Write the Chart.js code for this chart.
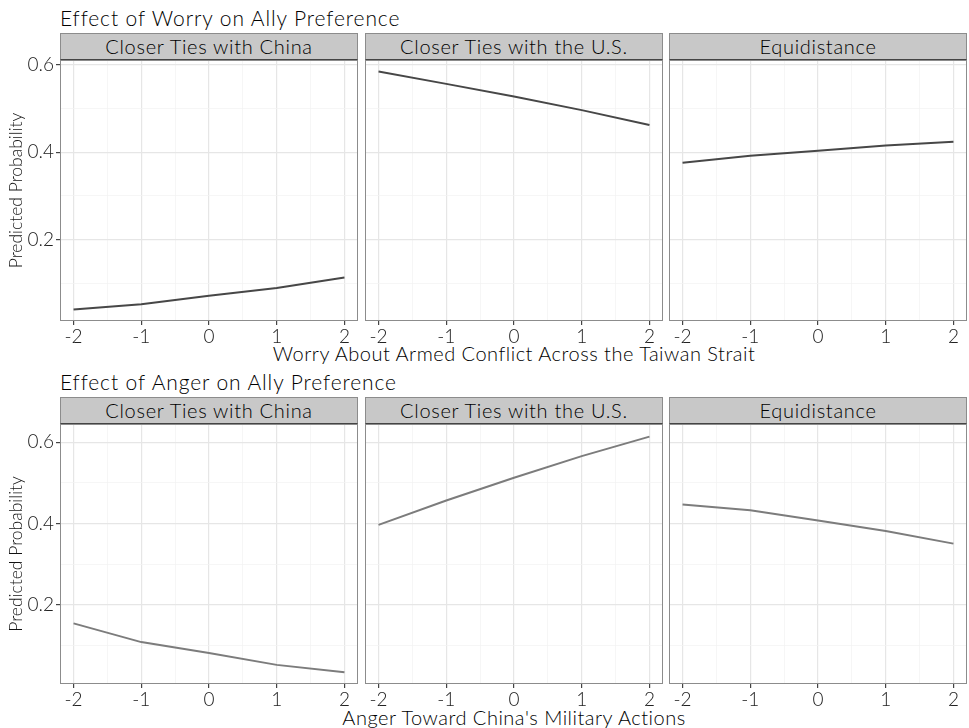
<!DOCTYPE html>
<html lang="en">
<head>
<meta charset="UTF-8">
<title>Effect of Worry and Anger on Ally Preference</title>
<style>
  body { margin: 0; background: #fff; font-family: Lato, sans-serif; font-weight: 300; }
  #page { position: relative; width: 969px; height: 728px; overflow: hidden; }
  .title { position: absolute; left: 60px; font-size: 21px; line-height: 21px; letter-spacing: 0.9px; color: #000; white-space: nowrap; }
  .strip { position: absolute; height: 27px; background: #c8c8c8; border: 1px solid #8c8c8c; border-bottom: 1px solid #444;
           box-sizing: border-box; text-align: center; font-size: 20px; line-height: 25px; letter-spacing: 0.7px; color: #000; white-space: nowrap; }
  .xtitle { position: absolute; font-size: 20px; line-height: 20px; letter-spacing: 0.5px; color: #000; white-space: nowrap; transform: translateX(-50%); }
  canvas { position: absolute; }
</style>
</head>
<body>
<div id="page">
  <div class="title" style="top:7px">Effect of Worry on Ally Preference</div>
  <div class="title" style="top:371px">Effect of Anger on Ally Preference</div>
  <div class="xtitle" style="top:343px; left:514px">Worry About Armed Conflict Across the Taiwan Strait</div>
  <div class="xtitle" style="top:707px; left:514px">Anger Toward China's Military Actions</div>
</div>

<script src="https://cdn.jsdelivr.net/npm/chart.js"></script>
<script>
  // data
  const xVals = [-2, -1, 0, 1, 2];
  const panelNames = ['Closer Ties with China', 'Closer Ties with the U.S.', 'Equidistance'];

  const worryChina = [0.041, 0.053, 0.072, 0.090, 0.114];
  const worryUS    = [0.584, 0.556, 0.527, 0.496, 0.462];
  const worryEqui  = [0.376, 0.392, 0.403, 0.415, 0.424];

  const angerChina = [0.155, 0.109, 0.082, 0.053, 0.035];
  const angerUS    = [0.397, 0.457, 0.513, 0.566, 0.614];
  const angerEqui  = [0.447, 0.433, 0.408, 0.382, 0.351];

  const xMajor = [-2, -1, 0, 1, 2];
  const xMinor = [-1.5, -0.5, 0.5, 1.5];
  const yMajor = [0.2, 0.4, 0.6];
  const yMinor = [0.1, 0.3, 0.5];

  // layout of the facet grid
  const cols = [{ left: 60, right: 358 }, { left: 365, right: 663 }, { left: 669, right: 967 }];
  const rows = [
    { stripTop: 33, top: 60, bottom: 321, yMin: 0.0145, yMax: 0.6105, color: '#474747',
      series: [worryChina, worryUS, worryEqui] },
    { stripTop: 397, top: 424, bottom: 684, yMin: 0.006, yMax: 0.645, color: '#7c7c7c',
      series: [angerChina, angerUS, angerEqui] }
  ];
  const PAD_TOP = 12, X_AXIS_H = 28, Y_AXIS_W = 60;
  const tickFont = { family: 'Lato', size: 19, weight: '300' };

  const page = document.getElementById('page');
  const isMajor = (v, list) => list.some(m => Math.abs(m - v) < 1e-6);
  const tickList = (a, b) => a.concat(b).sort((p, q) => p - q).map(v => ({ value: v }));

  const panelBorder = {
    id: 'panelBorder',
    afterDraw(chart) {
      const a = chart.chartArea, c = chart.ctx;
      c.save();
      c.strokeStyle = '#8c8c8c';
      c.lineWidth = 1;
      c.strokeRect(a.left + 0.5, a.top + 0.5, a.right - a.left - 1, a.bottom - a.top - 1);
      c.restore();
    }
  };

  rows.forEach(row => {
    cols.forEach((col, ci) => {
      const first = ci === 0;
      const canvas = document.createElement('canvas');
      const left = first ? col.left - Y_AXIS_W : col.left;
      canvas.width = col.right - left;
      canvas.height = PAD_TOP + (row.bottom - row.top) + X_AXIS_H;
      canvas.style.left = left + 'px';
      canvas.style.top = (row.top - PAD_TOP) + 'px';
      page.appendChild(canvas);

      new Chart(canvas, {
        type: 'line',
        data: {
          datasets: [{
            data: xVals.map((x, i) => ({ x: x, y: row.series[ci][i] })),
            borderColor: row.color,
            borderWidth: 2,
            pointRadius: 0,
            tension: 0,
            fill: false
          }]
        },
        options: {
          responsive: false,
          animation: false,
          layout: { padding: { top: PAD_TOP, left: 0, right: 0, bottom: 0 } },
          plugins: { legend: { display: false }, tooltip: { enabled: false } },
          scales: {
            x: {
              type: 'linear',
              min: -2.2,
              max: 2.2,
              afterBuildTicks: s => { s.ticks = tickList(xMajor, xMinor); },
              afterFit: s => { s.height = X_AXIS_H; s.paddingLeft = 0; s.paddingRight = 0; },
              border: { display: false },
              grid: {
                color: ctx => isMajor(ctx.tick.value, xMajor) ? '#e6e6e6' : '#f2f2f2',
                lineWidth: ctx => isMajor(ctx.tick.value, xMajor) ? 1.2 : 0.7,
                tickColor: ctx => isMajor(ctx.tick.value, xMajor) ? '#444' : 'rgba(0,0,0,0)',
                tickLength: 4
              },
              ticks: {
                maxRotation: 0,
                autoSkip: false,
                padding: 0,
                color: '#222',
                font: tickFont,
                callback: v => isMajor(v, xMajor) ? String(v) : ''
              }
            },
            y: {
              type: 'linear',
              min: row.yMin,
              max: row.yMax,
              afterBuildTicks: s => { s.ticks = tickList(yMajor, yMinor); },
              afterFit: s => { s.width = first ? Y_AXIS_W : 0; s.paddingTop = 0; s.paddingBottom = 0; },
              border: { display: false },
              title: {
                display: first,
                text: 'Predicted Probability',
                color: '#111',
                font: { family: 'Lato', size: 17.5, weight: '300' },
                padding: { top: 6, bottom: 0 }
              },
              grid: {
                color: ctx => isMajor(ctx.tick.value, yMajor) ? '#e6e6e6' : '#f2f2f2',
                lineWidth: ctx => isMajor(ctx.tick.value, yMajor) ? 1.2 : 0.7,
                tickColor: ctx => isMajor(ctx.tick.value, yMajor) ? '#444' : 'rgba(0,0,0,0)',
                drawTicks: first,
                tickLength: 4
              },
              ticks: {
                display: first,
                autoSkip: false,
                padding: 2,
                color: '#222',
                font: tickFont,
                callback: v => isMajor(v, yMajor) ? v.toFixed(1) : ''
              }
            }
          }
        },
        plugins: [panelBorder]
      });

      const strip = document.createElement('div');
      strip.className = 'strip';
      strip.style.left = col.left + 'px';
      strip.style.width = (col.right - col.left) + 'px';
      strip.style.top = row.stripTop + 'px';
      strip.textContent = panelNames[ci];
      page.appendChild(strip);
    });
  });
</script>
</body>
</html>
